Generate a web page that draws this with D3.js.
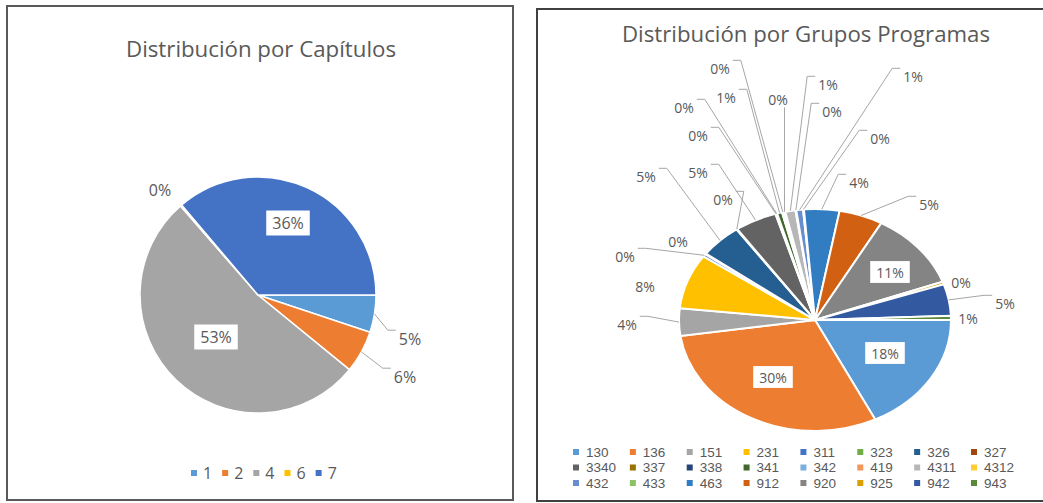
<!DOCTYPE html>
<html>
<head>
<meta charset="utf-8">
<script src="https://cdn.jsdelivr.net/npm/d3@7"></script>
<style>
  body { margin: 0; background: #fff; }
  text { font-family: "Open Sans", sans-serif; fill: #595959; }
</style>
</head>
<body>
<svg id="chart" width="1043" height="503"></svg>
<script>
// Distribución por Capítulos
const capCategories = ["1", "2", "4", "6", "7"];
const capValues = [5.1, 5.8, 52.7, 0.2, 36.2];
const capColors = ["#5B9BD5", "#ED7D31", "#A5A5A5", "#FFC000", "#4472C4"];

// Distribución por Grupos Programas
const grpCategories = ["130", "136", "151", "231", "311", "323", "326", "327",
  "3340", "337", "338", "341", "342", "419", "4311", "4312",
  "432", "433", "463", "912", "920", "925", "942", "943"];
const grpValues = [17.7, 30, 4, 8, 0.4, 0.1, 5, 0.1,
  5, 0.1, 0.1, 0.6, 0.2, 0.2, 1.2, 0.1,
  0.8, 0.1, 4.2, 5.2, 11.3, 0.4, 4.6, 0.6];
const grpColors = ["#5B9BD5", "#ED7D31", "#A5A5A5", "#FFC000", "#4472C4", "#70AD47", "#255E91", "#9E480E",
  "#636363", "#997300", "#264478", "#43682B", "#7CAFDD", "#F1975A", "#B7B7B7", "#FFCD33",
  "#698ED0", "#8CC168", "#327DC2", "#D26012", "#848484", "#D5A000", "#335AA1", "#5A8A39"];

// label placement (relative to pie centre), like Excel's manual label layout
const capLabelPos = [[152, 44, "out"], [147, 82, "out"], [-42, 42, "box"], [-98, -105, "plain"], [30, -72, "box"]];
const grpLabelPos = [
  [70, 33, "box"], [-42, 57, "box"], [-188, 4, "out"], [-170, -34, "plain"],
  [-190, -64, "out"], [-137, -79, "plain"], [-169, -144, "out"], [-92, -121, "out"],
  [-117, -148, "out"], [-117, -185, "out"], [-131, -213, "out"], [-89, -223, "out"],
  [-95, -252, "out"], [-37, -221, "out"], [13, -236, "out"], [17, -209, "out"],
  [98, -244, "out"], [65, -182, "out"], [44, -138, "out"], [114, -116, "out"],
  [75, -48, "box"], [146, -38, "plain"], [190, -17, "out"], [153, -2, "plain"]
];

const svg = d3.select("#chart");

// panel frames
svg.append("rect").attr("x", 7).attr("y", 6).attr("width", 506).attr("height", 494)
  .attr("fill", "#fff").attr("stroke", "#595959").attr("stroke-width", 2);
svg.append("rect").attr("x", 537).attr("y", 9).attr("width", 520).attr("height", 492)
  .attr("fill", "#fff").attr("stroke", "#404040").attr("stroke-width", 2);

function drawTitle(txt, x, y, len) {
  svg.append("text").attr("x", x).attr("y", y)
    .attr("text-anchor", "middle")
    .style("font-size", "21px")
    .attr("textLength", len).attr("lengthAdjust", "spacingAndGlyphs")
    .text(txt);
}

function drawPie(o) {
  let total = d3.sum(o.values);
  let pie = d3.pie().sort(null).value(d => d)
    .startAngle(Math.PI / 2).endAngle(Math.PI / 2 + 2 * Math.PI);
  let arcs = pie(o.values);
  let arc = d3.arc().innerRadius(0).outerRadius(o.ry);

  let g = svg.append("g")
    .attr("transform", "translate(" + o.cx + "," + o.cy + ") scale(" + (o.rx / o.ry) + ",1)");
  g.selectAll("path").data(arcs).enter().append("path")
    .attr("d", arc)
    .attr("fill", (d, i) => o.colors[i])
    .attr("stroke", "#fff")
    .attr("stroke-width", o.strokeW)
    .attr("vector-effect", "non-scaling-stroke");

  let lg = svg.append("g").attr("transform", "translate(" + o.cx + "," + o.cy + ")");
  arcs.forEach(function(d, i) {
    let pos = o.labelPos[i];
    let lx = pos[0], ly = pos[1], mode = pos[2];
    let t = lg.append("text").attr("x", lx).attr("y", ly)
      .attr("text-anchor", "middle").attr("dominant-baseline", "central")
      .style("font-size", o.fontSize + "px")
      .text(Math.round(d.value / total * 100) + "%");
    let w = t.node().getComputedTextLength();
    if (mode == "box") {
      lg.insert("rect", "text").attr("x", lx - w / 2 - 6).attr("y", ly - o.fontSize * 0.78)
        .attr("width", w + 12).attr("height", o.fontSize * 1.56)
        .attr("fill", "#fff");
      t.raise();
    }
    if (mode == "out") {
      let mid = (d.startAngle + d.endAngle) / 2;
      let px = Math.sin(mid) * o.rx, py = -Math.cos(mid) * o.ry;
      let pts;
      if (Math.abs(px - lx) < 10) {
        // label sits right above its slice: straight drop
        pts = [[px, ly + o.fontSize * 0.6], [px, py]];
      } else {
        let side = px > lx ? 1 : -1;
        let sx = lx + side * (w / 2 + 3);
        let yy = ly - o.fontSize * 0.55;
        pts = [[sx, yy], [sx + side * 8, yy], [px, py]];
      }
      lg.insert("path", "text").attr("d", d3.line()(pts))
        .attr("fill", "none").attr("stroke", "#A6A6A6").attr("stroke-width", 1);
    }
  });
}

// left chart
drawTitle("Distribución por Capítulos", 261, 57, 270);
drawPie({cx: 258, cy: 295, rx: 118, ry: 118, values: capValues, colors: capColors,
  labelPos: capLabelPos, fontSize: 16, strokeW: 1.5});

// left legend, one row
let legL = svg.append("g");
let lx = 0;
capCategories.forEach(function(c, i) {
  legL.append("rect").attr("x", lx).attr("y", 470).attr("width", 6).attr("height", 6)
    .attr("fill", capColors[i]);
  let t = legL.append("text").attr("x", lx + 12).attr("y", 473)
    .attr("dominant-baseline", "central").style("font-size", "16px").text(c);
  lx += 12 + t.node().getComputedTextLength() + 10;
});
legL.attr("transform", "translate(191,0)");

// right chart
drawTitle("Distribución por Grupos Programas", 806, 42, 368);
drawPie({cx: 815, cy: 320, rx: 136, ry: 111, values: grpValues, colors: grpColors,
  labelPos: grpLabelPos, fontSize: 14, strokeW: 2});

// right legend, 8 columns x 3 rows
let colX = d3.scaleLinear().domain([0, 7]).range([573, 971]);
let rowY = d3.scaleLinear().domain([0, 2]).range([452, 483]);
let legR = svg.append("g").selectAll("g").data(grpCategories).enter().append("g")
  .attr("transform", (d, i) => "translate(" + colX(i % 8) + "," + rowY(Math.floor(i / 8)) + ")");
legR.append("rect").attr("x", 0).attr("y", -3).attr("width", 6).attr("height", 6)
  .attr("fill", (d, i) => grpColors[i]);
legR.append("text").attr("x", 13).attr("y", 0).attr("dominant-baseline", "central")
  .style("font-family", "'Liberation Sans', sans-serif")
  .style("font-size", "13.5px").text(d => d);
</script>
</body>
</html>
